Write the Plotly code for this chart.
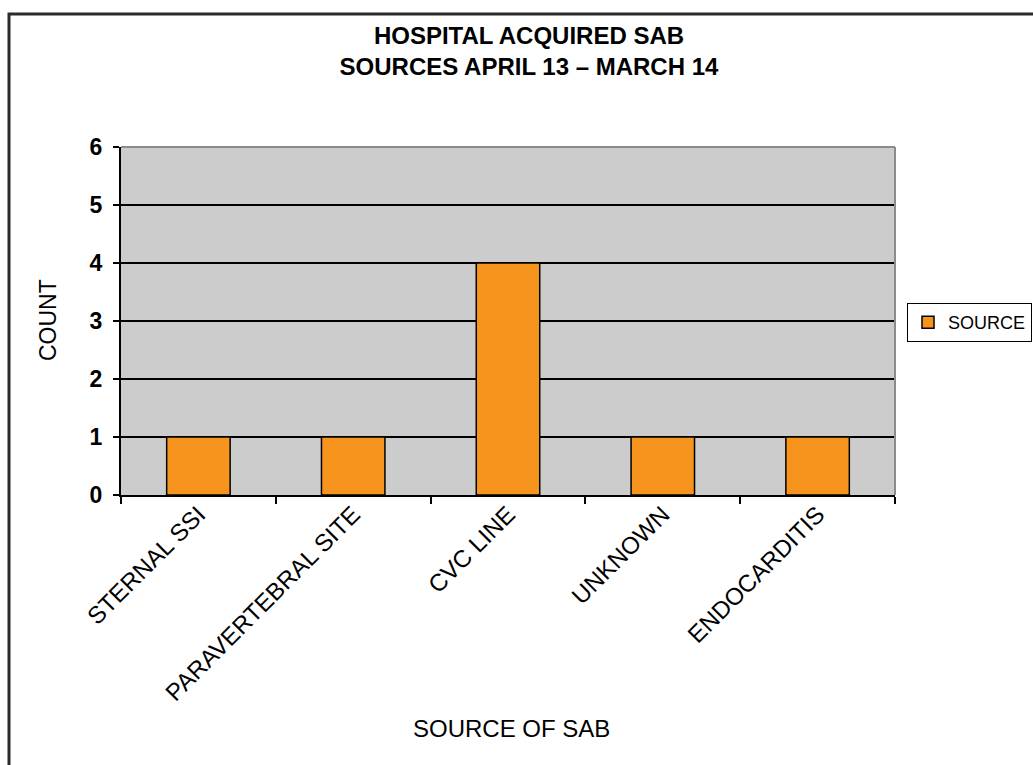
import plotly.graph_objects as go

# Sources of hospital-acquired SAB, April 13 - March 14
sources = ["STERNAL SSI", "PARAVERTEBRAL SITE", "CVC LINE", "UNKNOWN", "ENDOCARDITIS"]
counts = [1, 1, 4, 1, 1]
y_ticks = [0, 1, 2, 3, 4, 5, 6]

FONT = "Liberation Sans, Arial, sans-serif"
W, H = 1033, 765
L, R, T, B = 121, 138, 147, 270
PW, PH = W - L - R, H - T - B


def px_x(px):
    return (px - L) / PW


def px_y(py):
    return (H - B - py) / PH


fig = go.Figure()
fig.add_trace(go.Bar(
    x=sources,
    y=counts,
    name="SOURCE",
    width=0.41,
    marker=dict(color="#F7941D", line=dict(color="#000000", width=1.5)),
    showlegend=True,
))

fig.update_layout(
    width=W,
    height=H,
    margin=dict(l=L, r=R, t=T, b=B, pad=0, autoexpand=False),
    paper_bgcolor="#FFFFFF",
    plot_bgcolor="#CCCCCC",
    font=dict(family=FONT, color="#000000"),
    title=dict(
        text="<b>HOSPITAL ACQUIRED SAB<br>SOURCES APRIL 13 \u2013 MARCH 14</b>",
        font=dict(size=24, family=FONT, color="#000000"),
        x=px_x(529), xref="paper", xanchor="center",
        y=1 - 44 / H, yref="container", yanchor="top",
    ),
    showlegend=True,
    legend=dict(
        x=px_x(907), xanchor="left",
        y=px_y(303), yanchor="top",
        bordercolor="#000000", borderwidth=1,
        bgcolor="#FFFFFF",
        font=dict(size=18, family=FONT),
        itemwidth=30,
    ),
    bargap=0.5,
)

fig.update_xaxes(
    type="category",
    range=[-0.5, 4.5],
    tickangle=-45,
    tickfont=dict(size=24, family=FONT),
    ticks="outside", ticklen=7, tickwidth=2, tickcolor="#000000",
    tickson="boundaries",
    ticklabelstandoff=-6,
    showline=True, linecolor="#000000", linewidth=2,
    showgrid=False, zeroline=False,
)

fig.update_yaxes(
    range=[0, 6],
    tickvals=y_ticks,
    ticktext=[f"<b>{v}</b>" for v in y_ticks],
    tickfont=dict(size=23, family=FONT),
    ticks="outside", ticklen=6, tickwidth=2, tickcolor="#000000",
    ticklabelstandoff=6,
    showline=True, linecolor="#000000", linewidth=2,
    showgrid=True, gridcolor="#000000", gridwidth=2,
    zeroline=False,
)

# gray border on the top and right of the plotting area
fig.add_shape(type="line", xref="paper", yref="paper", x0=0, x1=1, y0=1, y1=1,
              line=dict(color="#8C8C8C", width=2), layer="above")
fig.add_shape(type="line", xref="paper", yref="paper", x0=1, x1=1, y0=0, y1=1,
              line=dict(color="#8C8C8C", width=2), layer="above")

# outer chart frame
fig.add_shape(type="rect", xref="paper", yref="paper",
              x0=px_x(9), x1=px_x(1060), y0=px_y(790), y1=px_y(14),
              line=dict(color="#2B2B2B", width=3), fillcolor="rgba(0,0,0,0)")

# axis titles
fig.add_annotation(text="COUNT", xref="paper", yref="paper",
                   x=px_x(48), y=px_y(320), textangle=-90,
                   showarrow=False, xanchor="center", yanchor="middle",
                   font=dict(size=23, family=FONT))
fig.add_annotation(text="SOURCE OF SAB", xref="paper", yref="paper",
                   x=px_x(511), y=px_y(728),
                   showarrow=False, xanchor="center", yanchor="middle",
                   font=dict(size=24, family=FONT))

fig.write_html("out.html")
